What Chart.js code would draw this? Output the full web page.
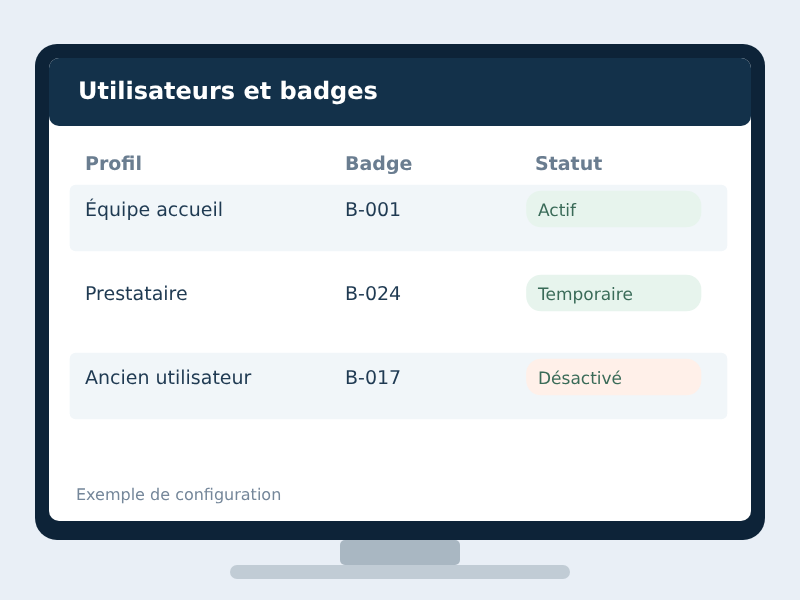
<!DOCTYPE html>
<html lang="fr">
<head>
<meta charset="utf-8">
<title>Utilisateurs et badges</title>
<style>
  html, body { margin: 0; padding: 0; background: #e9eff6; }
  canvas { display: block; }
</style>
<script src="https://cdn.jsdelivr.net/npm/chart.js@4/dist/chart.umd.min.js"></script>
</head>
<body>
<canvas id="badges" width="800" height="600"></canvas>
<script>
// donnees du tableau
const title = 'Utilisateurs et badges';
const footnote = 'Exemple de configuration';
const columns = ['Profil', 'Badge', 'Statut'];
const profiles = ['Équipe accueil', 'Prestataire', 'Ancien utilisateur'];
const badges = ['B-001', 'B-024', 'B-017'];
const statuses = ['Actif', 'Temporaire', 'Désactivé'];

const FONT = '"DejaVu Sans", sans-serif';
const columnX = [85, 345, 535];
const pillTextX = 538;
const rowHeight = 84;
const textShift = 9; // texte et pastille au-dessus du centre de la ligne

function roundRect(ctx, x, y, w, h, r, color) {
    ctx.fillStyle = color;
    ctx.beginPath();
    ctx.roundRect(x, y, w, h, r);
    ctx.fill();
}

function label(ctx, text, x, y, font, color) {
    ctx.font = font;
    ctx.fillStyle = color;
    ctx.textAlign = 'left';
    ctx.textBaseline = 'alphabetic';
    ctx.textRendering = 'geometricPrecision';
    ctx.fillText(text, x, y);
}

// moniteur derriere le tableau
const monitorPlugin = {
    id: 'monitor',
    beforeDatasetsDraw(chart) {
        const ctx = chart.ctx;
        ctx.save();
        roundRect(ctx, 340, 540, 120, 25, 5, '#a9b7c2');
        roundRect(ctx, 230, 565, 340, 14, 7, '#c1ccd5');
        roundRect(ctx, 35, 44, 730, 496, 22, '#0d2338');
        roundRect(ctx, 49, 58, 702, 463, 10, '#ffffff');
        roundRect(ctx, 49, 58, 702, 68, 10, '#13314a');
        ctx.restore();
    }
};

// textes places avec les echelles du graphique
const tablePlugin = {
    id: 'tableText',
    afterDatasetsDraw(chart) {
        const ctx = chart.ctx;
        const x = chart.scales.x;
        const y = chart.scales.y;
        ctx.save();
        label(ctx, title, 78, 99, 'bold 24px ' + FONT, '#ffffff');
        columns.forEach(function (name, c) {
            label(ctx, name, x.getPixelForValue(columnX[c]), 170, 'bold 19px ' + FONT, '#6a7d90');
        });
        profiles.forEach(function (name, r) {
            const base = y.getPixelForValue(r) - textShift + 7;
            label(ctx, name, x.getPixelForValue(columnX[0]), base, '19px ' + FONT, '#1f3a52');
            label(ctx, badges[r], x.getPixelForValue(columnX[1]), base, '19px ' + FONT, '#1f3a52');
            label(ctx, statuses[r], x.getPixelForValue(pillTextX), base, '17px ' + FONT, '#3a6b58');
        });
        label(ctx, footnote, 76, 500, '16px ' + FONT, '#75879a');
        ctx.restore();
    }
};

const ctx = document.getElementById('badges').getContext('2d');
new Chart(ctx, {
    type: 'bar',
    data: {
        labels: profiles,
        datasets: [
            {
                // pastilles de statut
                yAxisID: 'yPill',
                data: statuses.map(function (s, r) { return { x: [526.5, 701], y: r }; }),
                backgroundColor: ['#e7f4ed', '#e7f4ed', '#fff0e9'],
                barThickness: 36,
                borderRadius: 15,
                borderSkipped: false,
                grouped: false
            },
            {
                // lignes alternees
                data: profiles.map(function () { return [70, 727]; }),
                backgroundColor: ['#f1f6f9', 'rgba(0,0,0,0)', '#f1f6f9'],
                barThickness: 66,
                borderRadius: 6,
                borderSkipped: false,
                grouped: false
            }
        ]
    },
    options: {
        indexAxis: 'y',
        responsive: false,
        devicePixelRatio: 1,
        animation: false,
        events: [],
        layout: { padding: { top: 176, bottom: 172, left: 0, right: 0 } },
        plugins: { legend: { display: false }, tooltip: { enabled: false } },
        scales: {
            x: { type: 'linear', min: 0, max: 800, display: false },
            y: { type: 'category', display: false },
            yPill: {
                type: 'linear',
                display: false,
                offset: false,
                reverse: true,
                min: -(rowHeight / 2 - textShift) / rowHeight,
                max: profiles.length - (rowHeight / 2 - textShift) / rowHeight
            }
        }
    },
    plugins: [monitorPlugin, tablePlugin]
});
</script>
</body>
</html>
